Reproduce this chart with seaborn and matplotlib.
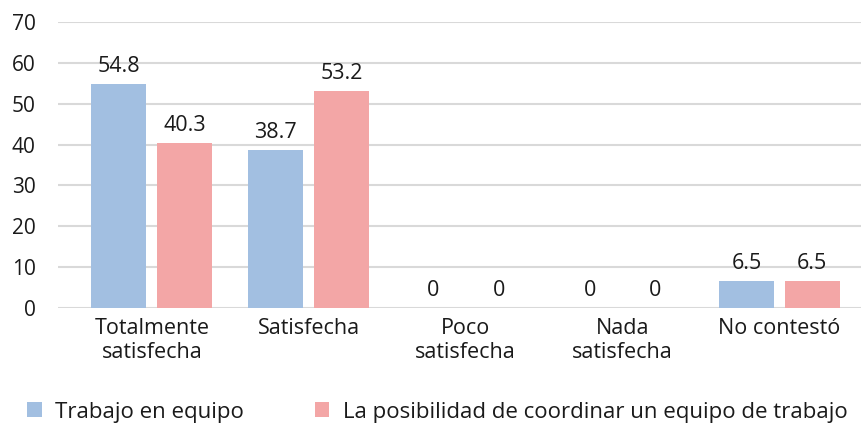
import matplotlib
matplotlib.use("Agg")
import matplotlib.pyplot as plt
import seaborn as sns
import pandas as pd

categories = ["Totalmente\nsatisfecha", "Satisfecha", "Poco\nsatisfecha", "Nada\nsatisfecha", "No contestó"]
series_names = ["Trabajo en equipo", "La posibilidad de coordinar un equipo de trabajo"]
trabajo_equipo = [54.8, 38.7, 0, 0, 6.5]
coordinar_equipo = [40.3, 53.2, 0, 0, 6.5]
y_ticks = [0, 10, 20, 30, 40, 50, 60, 70]
colors = ["#a2bfe1", "#f3a6a6"]

df = pd.DataFrame({
    "cat": categories * 2,
    "serie": [series_names[0]] * 5 + [series_names[1]] * 5,
    "val": trabajo_equipo + coordinar_equipo,
})

sns.set_theme(style="white")
plt.rcParams["font.family"] = ["Open Sans", "DejaVu Sans"]

fig = plt.figure(figsize=(8.61, 4.24), dpi=100)
ax = fig.add_axes([0.067, 0.274, 0.933, 0.674])

sns.barplot(data=df, x="cat", y="val", hue="serie", palette=colors,
            width=0.84, gap=0.167, ax=ax, saturation=1, legend=True,
            linewidth=0, edgecolor="none")

for c in ax.containers:
    ax.bar_label(c, labels=[f"{v:g}" for v in c.datavalues], padding=5,
                 fontsize=15.5, color="#1a1a1a")

ax.set_ylim(0, 70)
ax.set_yticks(y_ticks)
ax.set_xlim(-0.6, 4.52)
ax.yaxis.grid(True, color="#d9d9d9", linewidth=1.5)
ax.set_axisbelow(True)
for s in ax.spines.values():
    s.set_visible(False)
ax.set_xlabel("")
ax.set_ylabel("")
ax.tick_params(axis="y", length=0, pad=16, labelsize=15, labelcolor="#1a1a1a")
ax.tick_params(axis="x", length=0, pad=7, labelsize=15.5, labelcolor="#1a1a1a")

handles, labels = ax.get_legend_handles_labels()
ax.legend_.remove()
fig.legend(handles, labels, loc="center", bbox_to_anchor=(0.508, 0.028), ncol=2,
           frameon=False, fontsize=16, handlelength=0.65, handleheight=0.65,
           handletextpad=0.6, columnspacing=3.2, labelcolor="#1a1a1a")

fig.savefig("out.png", dpi=100)
